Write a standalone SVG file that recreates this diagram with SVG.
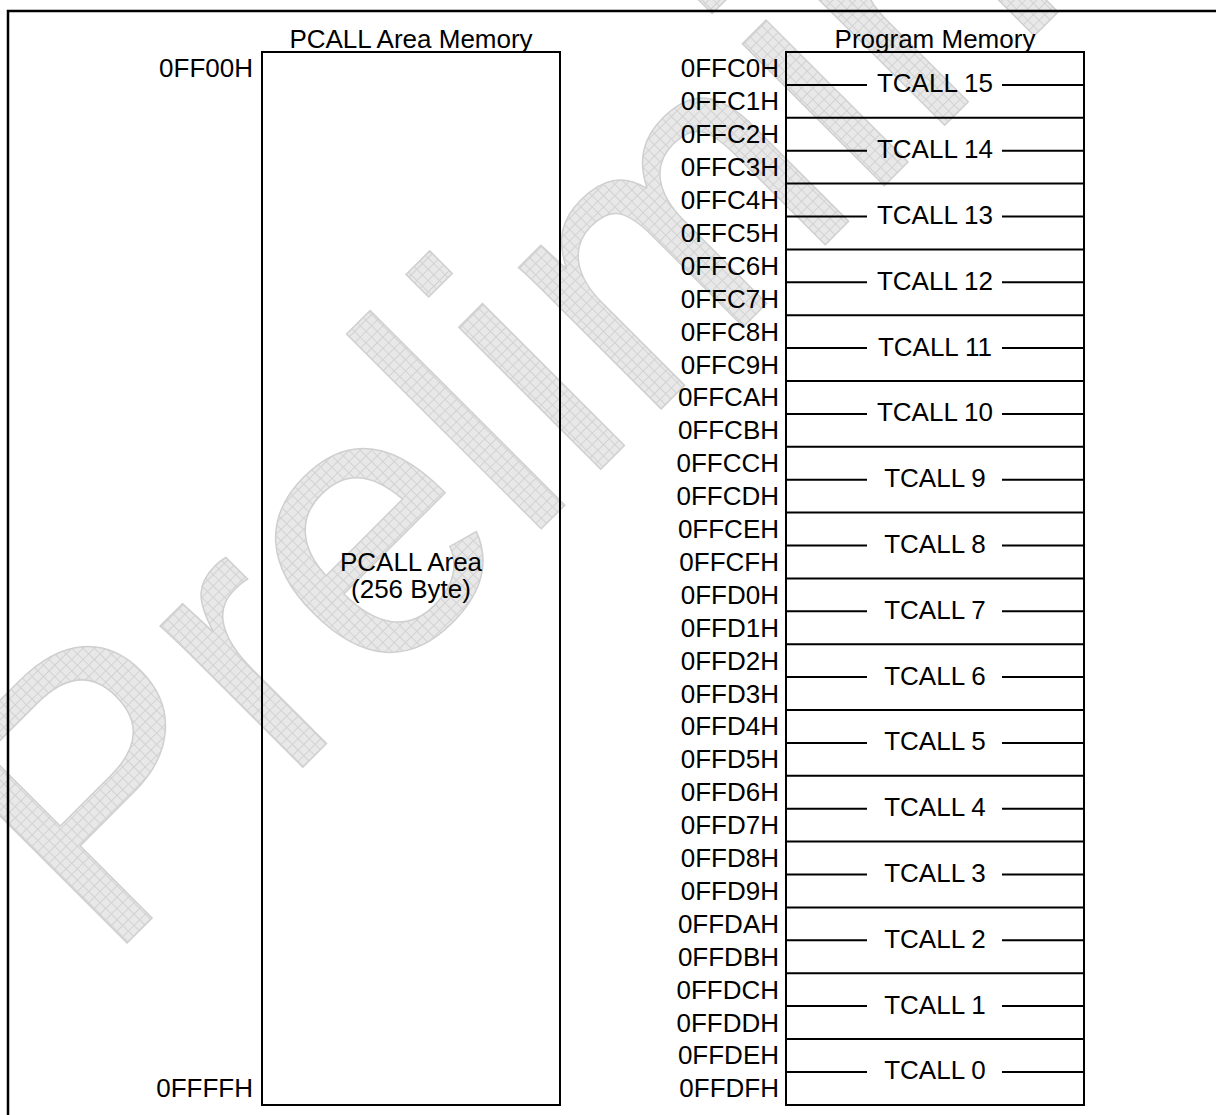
<svg xmlns="http://www.w3.org/2000/svg" width="1216" height="1115" viewBox="0 0 1216 1115">
<defs>
<pattern id="grid" width="8" height="8" patternUnits="userSpaceOnUse">
<rect width="8" height="8" fill="#e8e8e8"/>
<path d="M0 0.5H8M0.5 0V8" stroke="#d2d2d2" stroke-width="1"/>
</pattern>
<style>
text{font-family:"Liberation Sans",Arial,sans-serif;font-size:26px;fill:#000}
.box{fill:none;stroke:#000;stroke-width:2}
.ln{stroke:#000;stroke-width:2}
.addr{text-anchor:end}
.mid{text-anchor:middle}
.wm{font-family:"Liberation Sans",Arial,sans-serif;font-size:380px;fill:url(#grid);stroke:#cfcfcf;stroke-width:1.5}
</style>
</defs>
<rect width="1216" height="1115" fill="#fff"/>
<g id="watermark">
<text class="wm" transform="translate(105,965) rotate(-45)">Preliminary</text>
</g>
<rect x="8" y="11" width="1230" height="1130" fill="none" stroke="#000" stroke-width="2.5"/>
<g id="pcall">
<text class="mid" x="411" y="48">PCALL Area Memory</text>
<rect class="box" x="262" y="52" width="298" height="1053"/>
<text class="addr" x="253" y="77">0FF00H</text>
<text class="addr" x="253" y="1097">0FFFFH</text>
<text class="mid" x="411" y="571">PCALL Area</text>
<text class="mid" x="411" y="598">(256 Byte)</text>
</g>
<g id="program">
<text class="mid" x="935" y="48">Program Memory</text>
<rect class="box" x="786" y="52" width="298" height="1053"/>
</g>
<g id="connectors">
<path class="ln" d="M786 117.8H1084M786 183.6H1084M786 249.4H1084M786 315.2H1084M786 381H1084M786 446.8H1084M786 512.6H1084M786 578.4H1084M786 644.2H1084M786 710H1084M786 775.8H1084M786 841.6H1084M786 907.4H1084M786 973.2H1084M786 1039H1084"/>
<path class="ln" d="M786 84.9H867M1002 84.9H1084M786 150.7H867M1002 150.7H1084M786 216.5H867M1002 216.5H1084M786 282.3H867M1002 282.3H1084M786 348.1H867M1002 348.1H1084M786 413.9H867M1002 413.9H1084M786 479.7H867M1002 479.7H1084M786 545.5H867M1002 545.5H1084M786 611.3H867M1002 611.3H1084M786 677.1H867M1002 677.1H1084M786 742.9H867M1002 742.9H1084M786 808.7H867M1002 808.7H1084M786 874.5H867M1002 874.5H1084M786 940.3H867M1002 940.3H1084M786 1006.1H867M1002 1006.1H1084M786 1071.9H867M1002 1071.9H1084"/>
</g>
<g id="tcall15"><text class="mid" x="935" y="92.4">TCALL 15</text></g>
<g id="tcall14"><text class="mid" x="935" y="158.2">TCALL 14</text></g>
<g id="tcall13"><text class="mid" x="935" y="224">TCALL 13</text></g>
<g id="tcall12"><text class="mid" x="935" y="289.8">TCALL 12</text></g>
<g id="tcall11"><text class="mid" x="935" y="355.6">TCALL 11</text></g>
<g id="tcall10"><text class="mid" x="935" y="421.4">TCALL 10</text></g>
<g id="tcall9"><text class="mid" x="935" y="487.2">TCALL 9</text></g>
<g id="tcall8"><text class="mid" x="935" y="553">TCALL 8</text></g>
<g id="tcall7"><text class="mid" x="935" y="618.8">TCALL 7</text></g>
<g id="tcall6"><text class="mid" x="935" y="684.6">TCALL 6</text></g>
<g id="tcall5"><text class="mid" x="935" y="750.4">TCALL 5</text></g>
<g id="tcall4"><text class="mid" x="935" y="816.2">TCALL 4</text></g>
<g id="tcall3"><text class="mid" x="935" y="882">TCALL 3</text></g>
<g id="tcall2"><text class="mid" x="935" y="947.8">TCALL 2</text></g>
<g id="tcall1"><text class="mid" x="935" y="1013.6">TCALL 1</text></g>
<g id="tcall0"><text class="mid" x="935" y="1079.4">TCALL 0</text></g>
<g id="addresses">
<text class="addr" x="779" y="77.4">0FFC0H</text>
<text class="addr" x="779" y="110.3">0FFC1H</text>
<text class="addr" x="779" y="143.2">0FFC2H</text>
<text class="addr" x="779" y="176.1">0FFC3H</text>
<text class="addr" x="779" y="209">0FFC4H</text>
<text class="addr" x="779" y="241.9">0FFC5H</text>
<text class="addr" x="779" y="274.8">0FFC6H</text>
<text class="addr" x="779" y="307.7">0FFC7H</text>
<text class="addr" x="779" y="340.6">0FFC8H</text>
<text class="addr" x="779" y="373.5">0FFC9H</text>
<text class="addr" x="779" y="406.4">0FFCAH</text>
<text class="addr" x="779" y="439.3">0FFCBH</text>
<text class="addr" x="779" y="472.2">0FFCCH</text>
<text class="addr" x="779" y="505.1">0FFCDH</text>
<text class="addr" x="779" y="538">0FFCEH</text>
<text class="addr" x="779" y="570.9">0FFCFH</text>
<text class="addr" x="779" y="603.8">0FFD0H</text>
<text class="addr" x="779" y="636.7">0FFD1H</text>
<text class="addr" x="779" y="669.6">0FFD2H</text>
<text class="addr" x="779" y="702.5">0FFD3H</text>
<text class="addr" x="779" y="735.4">0FFD4H</text>
<text class="addr" x="779" y="768.3">0FFD5H</text>
<text class="addr" x="779" y="801.2">0FFD6H</text>
<text class="addr" x="779" y="834.1">0FFD7H</text>
<text class="addr" x="779" y="867">0FFD8H</text>
<text class="addr" x="779" y="899.9">0FFD9H</text>
<text class="addr" x="779" y="932.8">0FFDAH</text>
<text class="addr" x="779" y="965.7">0FFDBH</text>
<text class="addr" x="779" y="998.6">0FFDCH</text>
<text class="addr" x="779" y="1031.5">0FFDDH</text>
<text class="addr" x="779" y="1064.4">0FFDEH</text>
<text class="addr" x="779" y="1097.3">0FFDFH</text>
</g>
</svg>
